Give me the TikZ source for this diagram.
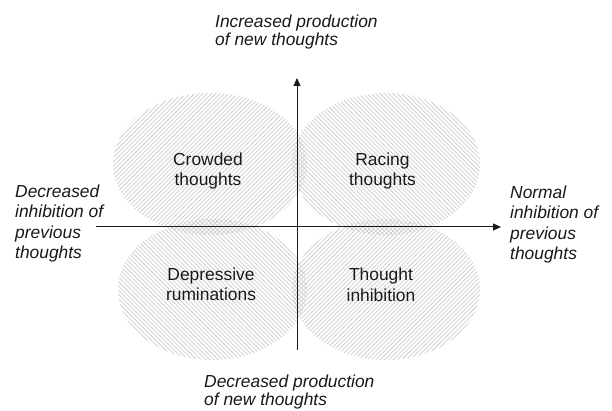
\documentclass[tikz,border=0pt]{standalone}
\usepackage{fontspec}
\setmainfont{Liberation Sans}
\usetikzlibrary{shapes.geometric,arrows.meta}
\definecolor{hatchgray}{RGB}{206,206,206}
\definecolor{ink}{RGB}{25,25,25}
\begin{document}
\begin{tikzpicture}[x=1pt,y=-1pt,
  hatchline/.style={draw=hatchgray,line width=0.75pt},
  blob/.style={ellipse,inner sep=0pt,draw=none},
  ne hatch/.style={path picture={\foreach \k in {-44,...,44}{\draw[hatchline] ([shift={(\k*4.3pt-160pt,-160pt)}]path picture bounding box.center) -- ++(320pt,320pt);}}},
  nw hatch/.style={path picture={\foreach \k in {-44,...,44}{\draw[hatchline] ([shift={(\k*4.3pt-160pt,160pt)}]path picture bounding box.center) -- ++(320pt,-320pt);}}},
  lab/.style={align=center,inner sep=0pt,text=ink,font=\fontsize{17.4}{20.5}\selectfont},
  axlab/.style={align=left,inner sep=0pt,anchor=north west,text=ink},
  axis/.style={draw=ink,line width=1pt,-{Triangle[length=8pt,width=7pt]}}
]
\useasboundingbox[fill=white] (0,0) rectangle (612,411);

% quadrant ellipses
\node[blob,ne hatch,minimum width=194pt,minimum height=142pt] (tl) at (210,164) {};
\node[blob,nw hatch,minimum width=188pt,minimum height=142pt] (tr) at (386,164) {};
\node[blob,nw hatch,minimum width=189pt,minimum height=141pt] (bl) at (212.5,289.5) {};
\node[blob,ne hatch,minimum width=188pt,minimum height=141pt] (br) at (386,289.5) {};

% quadrant labels
\node[lab] (crowded) at (208,171) {Crowded\\thoughts};
\node[lab] (racing) at (382.5,171) {Racing\\thoughts};
\node[lab] (depr) at (211,284.5) {Depressive\\ruminations};
\node[lab] (thinh) at (381,285) {Thought\\inhibition};

% axes
\coordinate (vb) at (297,350);
\coordinate (vt) at (297,78);
\coordinate (hl) at (96,227);
\coordinate (hr) at (501,227);
\draw[axis] (vb) -- (vt);
\draw[axis] (hl) -- (hr);

% axis labels
\node[axlab,font=\itshape\fontsize{17.4}{18.5}\selectfont] (inc) at (215,14.6) {Increased production\\of new thoughts};
\node[axlab,font=\itshape\fontsize{17.4}{18.5}\selectfont] (dec) at (204,374.6) {Decreased production\\of new thoughts};
\node[axlab,font=\itshape\fontsize{17.4}{20.5}\selectfont] (left) at (15,184.6) {Decreased\\inhibition of\\previous\\thoughts};
\node[axlab,font=\itshape\fontsize{17.4}{20.5}\selectfont] (right) at (510,185.6) {Normal\\inhibition of\\previous\\thoughts};
\end{tikzpicture}
\end{document}
